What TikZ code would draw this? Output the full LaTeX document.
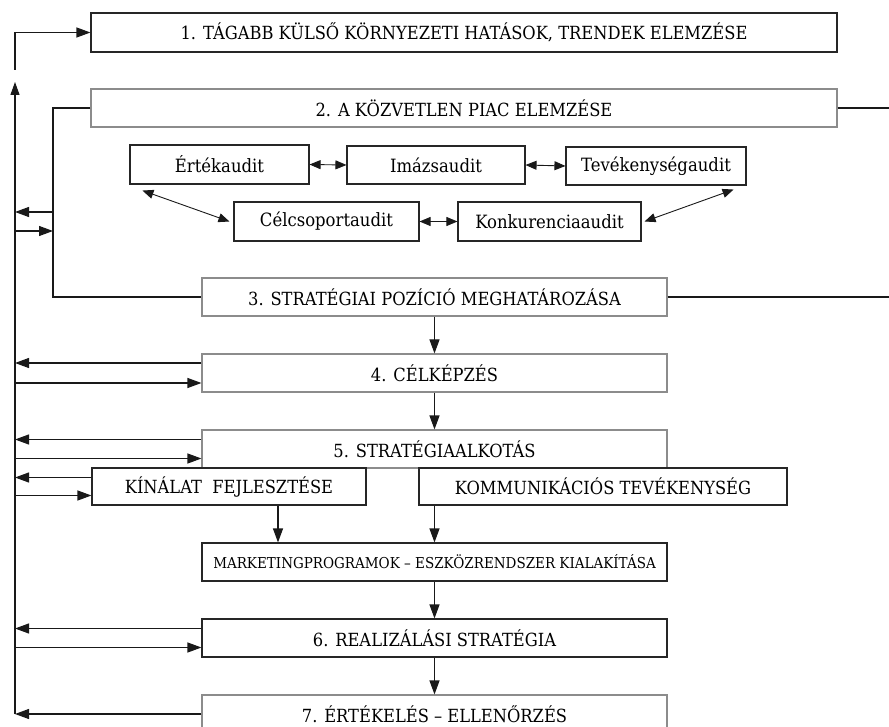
\documentclass[tikz,border=0pt]{standalone}
\usepackage{fontspec}
\setmainfont{DejaVu Serif}[FakeStretch=0.9]
\usetikzlibrary{arrows.meta}
\begin{document}
\begin{tikzpicture}[x=1pt,y=-1pt,
  box/.style={draw=black!85,line width=1.1pt,inner sep=0pt,font=\fontsize{18.1}{20}\selectfont},
  gbox/.style={box,draw=black!45},
  ibox/.style={box,font=\fontsize{18.3}{20}\selectfont},
  conn/.style={draw=black!90,line width=1.1pt},
  arr/.style={conn,-{Triangle[length=14pt,width=10pt]}},
  darr/.style={conn,line width=0.9pt,{Triangle[length=11pt,width=9pt]}-{Triangle[length=11pt,width=9pt]}}
]
\useasboundingbox (0,0) rectangle (889,727);
\clip (0,0) rectangle (889,727);

% main boxes
\node[box,  minimum width=746pt, minimum height=39pt] (b1) at (464,32.5) {1. TÁGABB KÜLSŐ KÖRNYEZETI HATÁSOK, TRENDEK ELEMZÉSE};
\node[gbox, minimum width=746pt, minimum height=38pt] (b2) at (464,108) {2. A KÖZVETLEN PIAC ELEMZÉSE};

% audit boxes
\node[ibox, minimum width=179pt, minimum height=39pt] (ert) at (219.5,164.5) {Értékaudit};
\node[ibox, minimum width=178pt, minimum height=38pt] (ima) at (436,165) {Imázsaudit};
\node[ibox, minimum width=180pt, minimum height=38pt] (tev) at (656,166) {Tevékenységaudit};
\node[ibox, minimum width=185pt, minimum height=39pt] (cel) at (326.5,221.5) {Célcsoportaudit};
\node[ibox, minimum width=183pt, minimum height=39pt] (kon) at (549.5,221.5) {Konkurenciaaudit};

\node[gbox, minimum width=465pt, minimum height=38pt] (b3) at (434.5,297) {3. STRATÉGIAI POZÍCIÓ MEGHATÁROZÁSA};
\node[gbox, minimum width=465pt, minimum height=38pt] (b4) at (434.5,373) {4. CÉLKÉPZÉS};
\node[gbox, minimum width=465pt, minimum height=38pt] (b5) at (434.5,449) {5. STRATÉGIAALKOTÁS};
\node[box,  minimum width=274pt, minimum height=37pt] (kin) at (229,486.5) {KÍNÁLAT\ \ FEJLESZTÉSE};
\node[box,  minimum width=368pt, minimum height=37pt] (kom) at (603,486.5) {KOMMUNIKÁCIÓS TEVÉKENYSÉG};
\node[box,  minimum width=465pt, minimum height=38pt, font=\fontsize{15}{17}\selectfont] (mk) at (434.5,562) {MARKETINGPROGRAMOK – ESZKÖZRENDSZER KIALAKÍTÁSA};
\node[box,  minimum width=465pt, minimum height=38pt] (b6) at (434.5,638) {6. REALIZÁLÁSI STRATÉGIA};
\node[gbox, minimum width=465pt, minimum height=38pt] (b7) at (434.5,714) {7. ÉRTÉKELÉS – ELLENŐRZÉS};

% helper coordinates
\coordinate (spine) at (15,0);
\coordinate (edge) at (889,0);
\coordinate (sub) at (53,297);
\coordinate (s1) at (53,212);
\coordinate (s2) at (53,231);
\coordinate (spinetop) at (15,82);
\coordinate (spinebot) at (15,714);
\coordinate (fb) at (15,70);

% audit arrows
\draw[darr] (ert.east) -- (ima.west);
\draw[darr] (ima.east) -- (tev.west);
\draw[darr] (cel.east) -- (kon.west);
\draw[darr] ([shift={(13pt,-6pt)}]ert.south west) -- ([xshift=-4pt]cel.west);
\draw[darr] ([xshift=3pt]kon.east) -- ([shift={(-13pt,-4pt)}]tev.south east);

% left structure
\draw[conn,-{Triangle[length=13pt,width=9pt]}] (spinebot) -- (spinetop);
\draw[arr] (fb) |- (b1.west);
\draw[conn] (b2.west) -| (sub) -- (b3.west);
\draw[arr] (s1) -- (s1 -| spine);
\draw[arr] (s2 -| spine) -- (s2);

% right lines
\draw[conn] (b2.east) -- (b2.east -| edge);
\draw[conn] (b3.east) -- (b3.east -| edge);

% feedback arrows
\path ([yshift=10pt]b4.west) coordinate (b4o) ([yshift=-10pt]b4.west) coordinate (b4i);
\draw[arr] (b4o) -- (b4o -| spine);
\draw[arr] (b4i -| spine) -- (b4i);
\path ([yshift=9.5pt]b5.west) coordinate (b5o) ([yshift=-9.5pt]b5.west) coordinate (b5i);
\draw[arr] (b5o) -- (b5o -| spine);
\draw[arr] (b5i -| spine) -- (b5i);
\path ([yshift=9pt]kin.west) coordinate (kino) ([yshift=-9pt]kin.west) coordinate (kini);
\draw[arr] (kino) -- (kino -| spine);
\draw[arr] (kini -| spine) -- (kini);
\path ([yshift=9.5pt]b6.west) coordinate (b6o) ([yshift=-9.5pt]b6.west) coordinate (b6i);
\draw[arr] (b6o) -- (b6o -| spine);
\draw[arr] (b6i -| spine) -- (b6i);
\draw[arr] (b7.west) -- (b7.west -| spine);

% downward flow
\draw[arr] (b3.south) -- (b4.north);
\draw[arr] (b4.south) -- (b5.north);
\path ([xshift=49pt]kin.south) coordinate (kinx);
\draw[arr] (kinx) -- (kinx |- mk.north);
\draw[arr] (mk.north |- kom.south) -- (mk.north);
\draw[arr] (mk.south) -- (b6.north);
\draw[arr] (b6.south) -- (b7.north);
\end{tikzpicture}
\end{document}
